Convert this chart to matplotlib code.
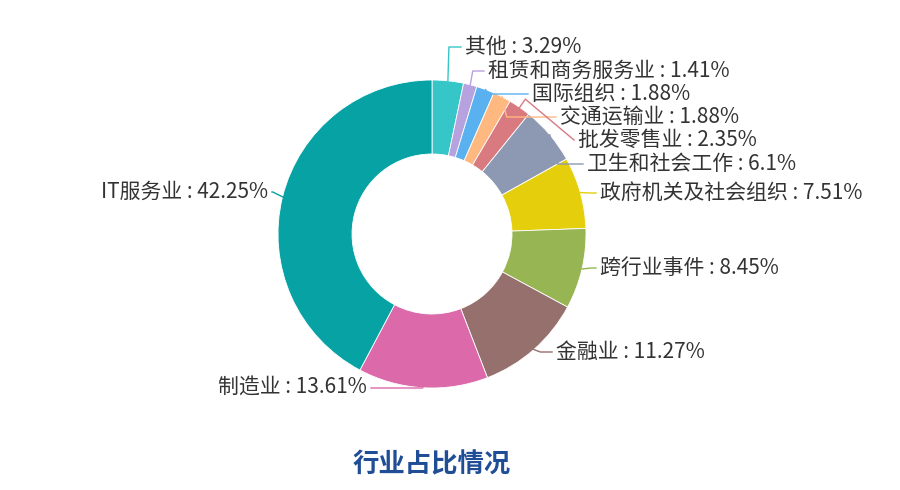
import matplotlib
matplotlib.use("Agg")
import matplotlib.pyplot as plt
from matplotlib.patches import Wedge
import numpy as np

plt.rcParams["font.family"] = "Noto Sans CJK SC"

# ── data ──────────────────────────────────────────────────────────────────────
labels = ["其他", "租赁和商务服务业", "国际组织", "交通运输业", "批发零售业",
          "卫生和社会工作", "政府机关及社会组织", "跨行业事件", "金融业",
          "制造业", "IT服务业"]
values = [3.29, 1.41, 1.88, 1.88, 2.35, 6.1, 7.51, 8.45, 11.27, 13.61, 42.25]
colors = ["#36c6c8", "#b6a2de", "#5ab1ef", "#ffb980", "#d87a80", "#8d98b3",
          "#e5cf0d", "#97b552", "#95706d", "#dc69aa", "#07a2a4"]
# label anchor (pixel x, pixel y, ha)
label_pos = [(465, 47, "left"), (488, 71, "left"), (532, 94, "left"),
             (560, 117, "left"), (578, 140, "left"), (587, 164, "left"),
             (600, 193, "left"), (600, 268, "left"), (556, 352, "left"),
             (367, 388, "right"), (268, 192, "right")]

W, H = 900, 490
fig = plt.figure(figsize=(9, 4.9), dpi=100)
ax = fig.add_axes([0, 0, 1, 1])
ax.set_xlim(0, W)
ax.set_ylim(0, H)
ax.set_aspect("equal")
ax.axis("off")

cx, cy, r_out, r_in = 432, H - 234, 154, 80
total = sum(values)
start = 90.0
for lab, v, c, (tx, ty, ha) in zip(labels, values, colors, label_pos):
    sweep = v / total * 360
    a1, a2 = start - sweep, start
    ax.add_patch(Wedge((cx, cy), r_out, a1, a2, width=r_out - r_in,
                       facecolor=c, edgecolor="white", linewidth=0.6))
    mid = np.deg2rad((a1 + a2) / 2)
    ex, ey = cx + r_out * np.cos(mid), cy + r_out * np.sin(mid)
    ox, oy = cx + (r_out + 10) * np.cos(mid), cy + (r_out + 10) * np.sin(mid)
    ty = H - ty
    endx = tx - 4 if ha == "left" else tx + 4
    ax.plot([ex, ox, endx], [ey, ty if abs(oy - ty) < 40 else oy, ty],
            color=c, lw=1)
    ax.text(tx, ty, f"{lab} : {v:g}%", ha=ha, va="center", fontsize=15,
            color="#333333")
    start = a1

ax.text(cx, H - 465, "行业占比情况", ha="center", va="center", fontsize=19,
        fontweight="bold", color="#1f4e96")

fig.savefig("out.png", dpi=100)
